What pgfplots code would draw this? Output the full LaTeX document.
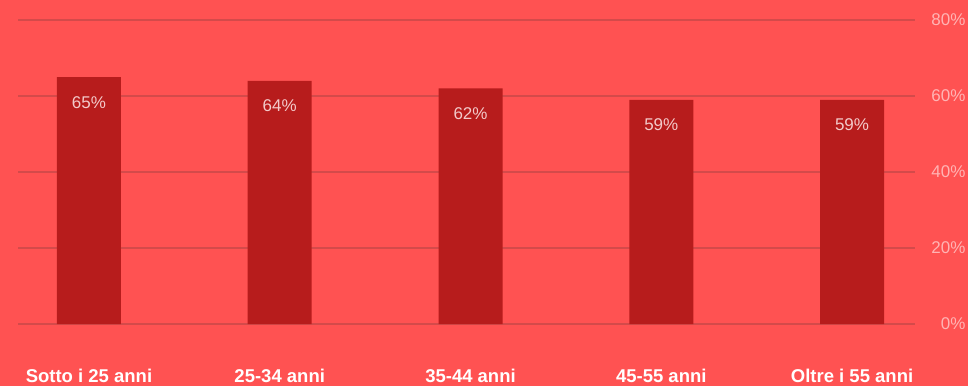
\documentclass[border=0pt]{standalone}
\usepackage{pgfplots}
\pgfplotsset{compat=1.18}
\usepackage{fontspec}
\setmainfont{Liberation Sans}
\definecolor{bg}{HTML}{FF5252}
\definecolor{bar}{HTML}{B71C1C}
\definecolor{gridc}{HTML}{D44A4A}
\definecolor{ticklab}{HTML}{FFB4B4}
\definecolor{vallab}{HTML}{F3CACA}
\begin{document}
\begin{tikzpicture}
\useasboundingbox (-18pt,-62pt) rectangle (950pt,324pt);
\fill[bg] (-18pt,-62pt) rectangle (950pt,324pt);
\begin{axis}[
  at={(0pt,0pt)}, anchor=south west,
  scale only axis, width=897pt, height=304pt,
  xmin=-0.372, xmax=4.330, ymin=0, ymax=80,
  xtick=data,
  xticklabels={Sotto i 25 anni,25-34 anni,35-44 anni,45-55 anni,Oltre i 55 anni},
  xticklabel style={anchor=base, yshift=-54pt, font=\fontsize{18.5}{22}\selectfont\bfseries, text=white},
  ytick={0,20,40,60,80},
  yticklabel pos=right,
  yticklabel={\pgfmathprintnumber{\tick}\%},
  yticklabel style={anchor=east, xshift=54pt, font=\fontsize{17}{20}\selectfont, text=ticklab},
  /pgf/number format/assume math mode=true,
  axis line style={draw=none},
  major tick style={draw=none},
  ymajorgrids, major grid style={gridc, line width=1.5pt},
  xmajorgrids=false,
  axis background/.style={fill=bg},
  ybar, bar width=64pt,
  bar shift=0pt,
  nodes near coords={\pgfmathprintnumber{\pgfplotspointmeta}\%},
  every node near coord/.append style={anchor=base, yshift=-31pt, font=\fontsize{17}{20}\selectfont, text=vallab},
]
\addplot[fill=bar, draw=none] coordinates {(0,65) (1,64) (2,62) (3,59) (4,59)};
\end{axis}
\end{tikzpicture}
\end{document}
